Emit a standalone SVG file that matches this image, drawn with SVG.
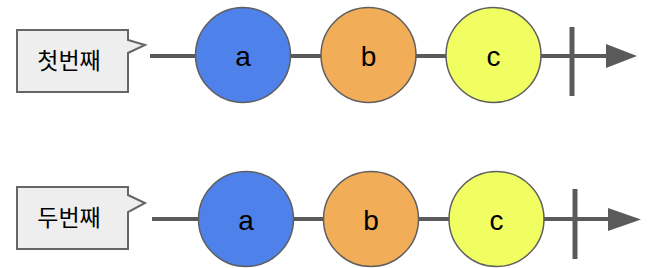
<svg xmlns="http://www.w3.org/2000/svg" width="655" height="268" viewBox="0 0 655 268">
<style>
.line{stroke:#5a5a5a;stroke-width:4;fill:none}
.tick{stroke:#5a5a5a;stroke-width:5}
.head{fill:#5a5a5a}
.box{fill:#eeeeee;stroke:#666666;stroke-width:2}
.node{stroke:#5f5f5f;stroke-width:1.5}
.lbl{font-family:"Liberation Sans",Arial,sans-serif;font-size:28px;text-anchor:middle;fill:#000}
.kor{font-family:"Noto Sans CJK KR","Liberation Sans",sans-serif;font-size:23px;text-anchor:middle;fill:#000}
</style>
<g id="connectors">
<line class="line" x1="150" y1="56" x2="608" y2="56"/>
<line class="tick" x1="572" y1="27" x2="572" y2="96"/>
<polygon class="head" points="606,44 637,56 606,68"/>
<line class="line" x1="152" y1="219" x2="610" y2="219"/>
<line class="tick" x1="575" y1="189" x2="575" y2="259"/>
<polygon class="head" points="608,208 641,219.5 608,231"/>
</g>
<g id="label1">
<path class="box" d="M17,30 H128 V40 L145,45 L128,53 V92 H17 Z"/>
<text class="kor" x="69" y="68.5">첫번째</text>
</g>
<g id="label2">
<path class="box" d="M17,187 H128 V195 L145,203 L128,212 V249 H17 Z"/>
<text class="kor" x="69" y="225.5">두번째</text>
</g>
<g id="a1"><circle class="node" cx="243" cy="55" r="47.5" fill="#4f81ea"/><text class="lbl" x="243" y="66">a</text></g>
<g id="b1"><circle class="node" cx="368.5" cy="55" r="47.5" fill="#f1ad57"/><text class="lbl" x="368.5" y="66">b</text></g>
<g id="c1"><circle class="node" cx="493.5" cy="55" r="47.5" fill="#f0fe62"/><text class="lbl" x="493.5" y="66">c</text></g>
<g id="a2"><circle class="node" cx="246" cy="219" r="47.5" fill="#4f81ea"/><text class="lbl" x="246" y="230">a</text></g>
<g id="b2"><circle class="node" cx="371" cy="219" r="47.5" fill="#f1ad57"/><text class="lbl" x="371" y="230">b</text></g>
<g id="c2"><circle class="node" cx="496.5" cy="219" r="47.5" fill="#f0fe62"/><text class="lbl" x="496.5" y="230">c</text></g>
</svg>
